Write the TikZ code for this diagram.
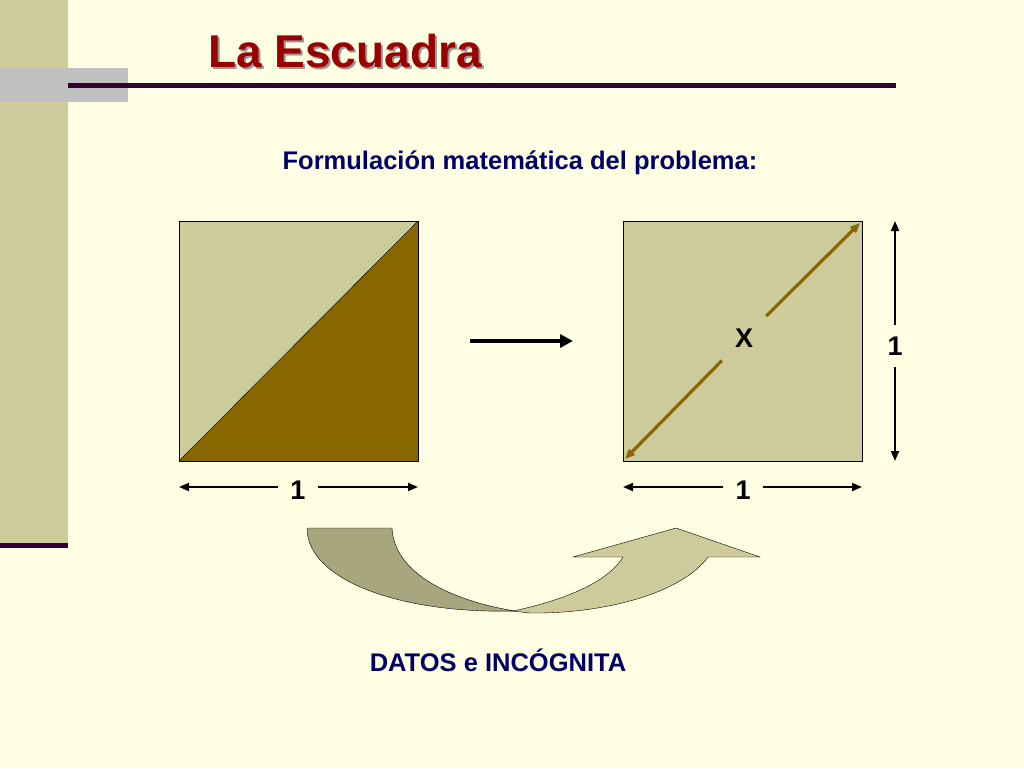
\documentclass[tikz,border=0pt]{standalone}
\usepackage{fontspec}
\setmainfont{Liberation Sans}
\usepackage{xcolor}
\usetikzlibrary{positioning, arrows.meta}

\definecolor{slidecream}{HTML}{FFFFE3}
\definecolor{slidekhaki}{HTML}{CDCB9B}
\definecolor{slideolive}{HTML}{A7A67F}
\definecolor{slidebrown}{HTML}{886600}
\definecolor{slideplum}{HTML}{330033}
\definecolor{slidegrey}{HTML}{C0C0C0}
\definecolor{slidenavy}{HTML}{000066}
\definecolor{slidered}{HTML}{990000}

\tikzset{
  dimline/.style={-{Triangle[length=10pt,width=8pt]}, line width=1.9pt},
  numlabel/.style={font=\bfseries\fontsize{27}{32}\selectfont, inner sep=12pt},
  bluetext/.style={font=\bfseries\fontsize{25.5}{30}\selectfont, text=slidenavy, anchor=base},
}

\begin{document}
\begin{tikzpicture}[x=1pt, y=-1pt]
    % page and background
    \useasboundingbox (0,0) rectangle (1024,768);
    \fill[slidecream] (0,0) rectangle (1024,768);

    % left band, grey tab and rules
    \fill[slidekhaki] (0,0) rectangle (68,545);
    \fill[slideplum] (0,543) rectangle (68,548);
    \fill[slidegrey] (0,68) rectangle (128,102);
    \fill[slideplum] (68,83) rectangle (896,88);

    % title with its shadow
    \node[anchor=base, font=\bfseries\fontsize{46}{50}\selectfont, text=black!40]
        (titleshadow) at (347,69) {La Escuadra};
    \node[anchor=base, font=\bfseries\fontsize{46}{50}\selectfont, text=slidered]
        (title) at (345,67) {La Escuadra};

    % subtitle
    \node[bluetext] (formula) at (520,169) {Formulación matemática del problema:};

    % left square cut along its diagonal
    \fill[slidekhaki] (179,221) -- (418,221) -- (179,461) -- cycle;
    \fill[slidebrown] (418,221) -- (418,461) -- (179,461) -- cycle;
    \draw[thin] (179,221) rectangle (418,461);
    \draw[thin] (179,461) -- (418,221);

    % arrow between the squares
    \coordinate (goS) at (470,341);
    \coordinate (goE) at (573,341);
    \draw[line width=4.5pt, -{Triangle[length=13pt,width=13pt]}] (goS) -- (goE);

    % right square with the unknown diagonal
    \fill[slidekhaki] (623,221) rectangle (862,461);
    \draw[thin] (623,221) rectangle (862,461);
    \node[numlabel, inner sep=13pt] (x) at (744,338) {X};
    \coordinate (diagSW) at (625,459);
    \coordinate (diagNE) at (860,223);
    \draw[dimline, slidebrown, line width=3.2pt] (x) -- (diagSW);
    \draw[dimline, slidebrown, line width=3.2pt] (x) -- (diagNE);

    % side length of the right square
    \node[numlabel] (sideR) at (895,346) {1};
    \coordinate (sideT) at (895,221);
    \coordinate (sideB) at (895,461);
    \draw[dimline] (sideR) -- (sideT);
    \draw[dimline] (sideR) -- (sideB);

    % base lengths of both squares
    \node[numlabel] (baseL) at (298,490) {1};
    \coordinate (baseLW) at (179,487);
    \coordinate (baseLE) at (418,487);
    \draw[dimline] (baseL.west |- baseLW) -- (baseLW);
    \draw[dimline] (baseL.east |- baseLE) -- (baseLE);

    \node[numlabel] (baseR) at (743,490) {1};
    \coordinate (baseRW) at (623,487);
    \coordinate (baseRE) at (862,487);
    \draw[dimline] (baseR.west |- baseRW) -- (baseRW);
    \draw[dimline] (baseR.east |- baseRE) -- (baseRE);

    % curved arrow: the falling half
    \filldraw[fill=slideolive, draw=black, thin]
        (307,528) -- (392,528)
        .. controls (394,572) and (448,600) .. (515,611)
        .. controls (400,614) and (307,580) .. (307,528) -- cycle;

    % curved arrow: the rising half with its head
    \filldraw[fill=slidekhaki, draw=black, thin]
        (513,611)
        .. controls (565,600) and (608,582) .. (623,557)
        -- (573,557) -- (676,528) -- (760,557) -- (708,557)
        .. controls (680,595) and (600,614) .. (530,613)
        -- cycle;

    % caption
    \node[bluetext] (caption) at (498,671) {DATOS e INCÓGNITA};
\end{tikzpicture}
\end{document}
